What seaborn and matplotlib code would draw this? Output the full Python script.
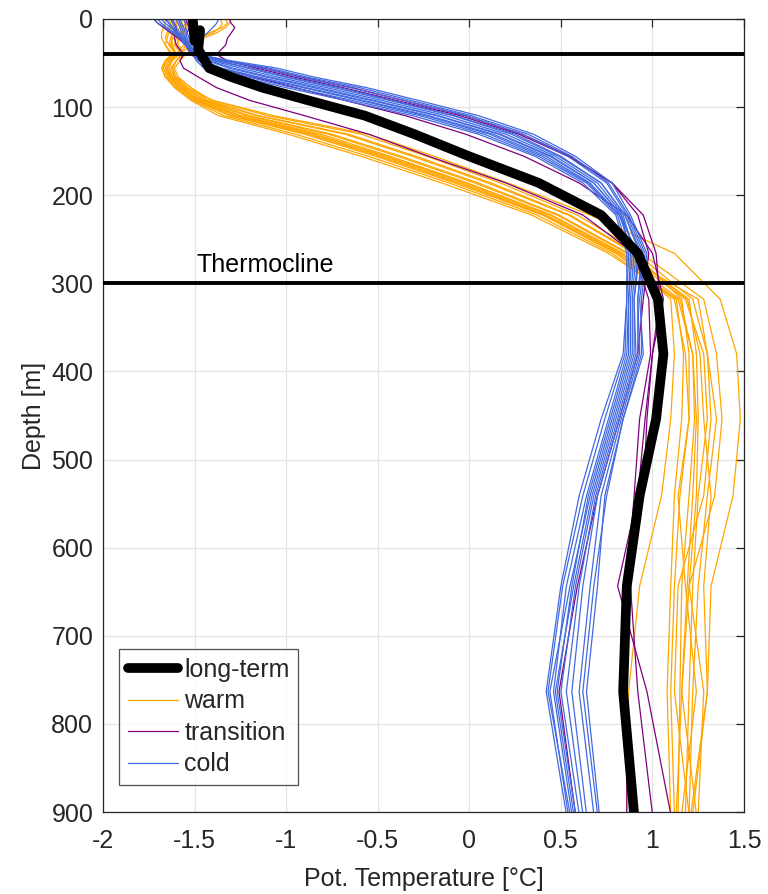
import numpy as np
import pandas as pd
import matplotlib
matplotlib.use("Agg")
import matplotlib.pyplot as plt
import seaborn as sns
from matplotlib.lines import Line2D

# ---------------- data ----------------
depth = [0.5, 5.0, 9.6, 15.8, 21.6, 29.4, 40.3, 47.4, 55.8, 65.8, 77.9, 92.3,
         109.7, 130.7, 155.9, 186.1, 222.5, 266.0, 318.1, 380.2, 453.9, 541.1,
         643.6, 763.3, 902.3]

long_term = [-1.51, -1.50, -1.47, -1.47, -1.48, -1.50, -1.50, -1.48, -1.42, -1.30,
             -1.13, -0.88, -0.57, -0.30, 0.00, 0.38, 0.72, 0.92, 1.03, 1.06, 1.02,
             0.93, 0.86, 0.84, 0.90]

warm = [
    [-1.30,-1.31,-1.33,-1.38,-1.45,-1.52,-1.58,-1.63,-1.65,-1.64,-1.58,-1.49,-1.30,-0.88,-0.49,-0.06,0.41,0.81,1.15,1.22,1.23,1.20,1.16,1.15,1.14],
    [-1.33,-1.32,-1.35,-1.42,-1.50,-1.56,-1.60,-1.66,-1.67,-1.65,-1.60,-1.51,-1.34,-0.95,-0.55,-0.11,0.37,0.78,1.12,1.18,1.20,1.15,1.12,1.10,1.12],
    [-1.36,-1.35,-1.36,-1.40,-1.48,-1.55,-1.57,-1.60,-1.62,-1.61,-1.54,-1.40,-1.07,-0.55,-0.19,0.21,0.66,1.12,1.37,1.46,1.48,1.44,1.32,1.30,1.22],
    [-1.58,-1.58,-1.60,-1.62,-1.63,-1.62,-1.60,-1.64,-1.66,-1.63,-1.57,-1.47,-1.25,-0.81,-0.43,-0.01,0.45,0.84,1.18,1.28,1.30,1.25,1.22,1.20,1.18],
    [-1.62,-1.62,-1.63,-1.64,-1.65,-1.66,-1.62,-1.66,-1.68,-1.66,-1.60,-1.50,-1.31,-0.90,-0.51,-0.08,0.40,0.80,1.13,1.17,1.16,1.12,1.10,1.08,1.10],
    [-1.56,-1.55,-1.57,-1.58,-1.60,-1.61,-1.57,-1.60,-1.62,-1.60,-1.52,-1.43,-1.15,-0.66,-0.29,0.12,0.55,0.91,1.22,1.30,1.35,1.30,1.25,1.22,1.20],
    [-1.60,-1.60,-1.61,-1.62,-1.63,-1.64,-1.59,-1.62,-1.64,-1.62,-1.55,-1.46,-1.22,-0.77,-0.39,0.03,0.48,0.86,1.20,1.24,1.25,1.24,1.20,1.28,1.25],
    [-1.52,-1.52,-1.54,-1.56,-1.58,-1.60,-1.56,-1.60,-1.63,-1.61,-1.54,-1.44,-1.16,-0.68,-0.31,0.10,0.54,0.90,1.16,1.20,1.20,1.14,1.18,1.24,1.16],
    [-1.64,-1.63,-1.64,-1.65,-1.66,-1.64,-1.60,-1.63,-1.65,-1.63,-1.58,-1.48,-1.26,-0.84,-0.45,-0.02,0.44,0.83,1.10,1.12,1.10,1.05,0.93,0.87,0.86],
    [-1.57,-1.57,-1.58,-1.60,-1.62,-1.63,-1.61,-1.65,-1.67,-1.64,-1.59,-1.48,-1.28,-0.86,-0.47,-0.04,0.42,0.82,1.25,1.30,1.32,1.28,1.14,1.12,1.20],
    [-1.66,-1.66,-1.67,-1.68,-1.68,-1.66,-1.63,-1.66,-1.68,-1.66,-1.61,-1.52,-1.37,-0.99,-0.59,-0.15,0.34,0.76,1.14,1.22,1.24,1.22,1.19,1.16,1.13],
    [-1.54,-1.54,-1.55,-1.57,-1.59,-1.59,-1.55,-1.58,-1.61,-1.59,-1.52,-1.41,-1.10,-0.59,-0.23,0.17,0.59,0.94,1.28,1.35,1.38,1.34,1.20,1.16,1.24],
    [-1.60,-1.60,-1.60,-1.61,-1.62,-1.63,-1.60,-1.63,-1.65,-1.62,-1.56,-1.45,-1.20,-0.75,-0.37,0.05,0.49,0.87,1.19,1.26,1.28,1.32,1.28,1.30,1.21],
]

transition = [
    [-1.72,-1.70,-1.67,-1.63,-1.59,-1.55,-1.50,-1.34,-1.12,-0.92,-0.64,-0.36,-0.02,0.29,0.55,0.78,0.92,0.98,0.95,0.92,0.82,0.70,0.59,0.49,0.58],
    [-1.31,-1.30,-1.28,-1.30,-1.32,-1.33,-1.38,-1.32,-1.16,-0.96,-0.69,-0.40,-0.05,0.27,0.54,0.78,0.95,1.02,1.04,1.00,0.96,0.92,0.81,0.97,1.10],
    [-1.55,-1.54,-1.53,-1.54,-1.55,-1.55,-1.52,-1.47,-1.36,-1.18,-0.95,-0.68,-0.35,-0.02,0.30,0.60,0.86,1.00,1.06,1.00,0.97,0.95,0.88,0.92,1.00],
    [-1.62,-1.61,-1.60,-1.60,-1.61,-1.60,-1.56,-1.58,-1.56,-1.48,-1.38,-1.20,-0.90,-0.55,-0.22,0.20,0.62,0.90,0.98,0.99,0.93,0.90,0.86,0.86,0.86],
]

cold = [
    [-1.72,-1.70,-1.66,-1.62,-1.58,-1.55,-1.50,-1.46,-1.37,-1.17,-0.91,-0.60,-0.24,0.11,0.40,0.65,0.82,0.92,0.90,0.90,0.80,0.68,0.58,0.50,0.60],
    [-1.68,-1.66,-1.63,-1.60,-1.57,-1.54,-1.49,-1.37,-1.19,-0.99,-0.71,-0.42,-0.08,0.25,0.50,0.72,0.85,0.94,0.92,0.92,0.82,0.70,0.62,0.56,0.64],
    [-1.37,-1.38,-1.40,-1.43,-1.46,-1.48,-1.47,-1.32,-1.09,-0.89,-0.60,-0.32,0.01,0.32,0.56,0.76,0.87,0.96,0.93,0.95,0.84,0.74,0.70,0.64,0.71],
    [-1.62,-1.61,-1.60,-1.58,-1.56,-1.53,-1.50,-1.43,-1.31,-1.11,-0.85,-0.54,-0.18,0.16,0.44,0.68,0.83,0.88,0.87,0.86,0.76,0.64,0.53,0.46,0.56],
    [-1.58,-1.57,-1.56,-1.55,-1.54,-1.52,-1.48,-1.40,-1.25,-1.05,-0.78,-0.48,-0.13,0.20,0.47,0.70,0.84,0.90,0.88,0.88,0.78,0.66,0.55,0.44,0.54],
    [-1.65,-1.64,-1.62,-1.60,-1.58,-1.55,-1.51,-1.49,-1.45,-1.25,-1.00,-0.68,-0.31,0.05,0.36,0.62,0.80,0.86,0.86,0.84,0.72,0.60,0.50,0.42,0.53],
    [-1.70,-1.68,-1.65,-1.61,-1.57,-1.53,-1.49,-1.34,-1.13,-0.93,-0.65,-0.36,-0.02,0.29,0.54,0.75,0.86,0.95,0.92,0.93,0.83,0.72,0.66,0.60,0.68],
    [-1.60,-1.59,-1.58,-1.57,-1.55,-1.53,-1.49,-1.45,-1.35,-1.15,-0.89,-0.58,-0.22,0.13,0.42,0.66,0.82,0.89,0.87,0.87,0.77,0.65,0.56,0.48,0.58],
    [-1.56,-1.55,-1.55,-1.54,-1.53,-1.51,-1.47,-1.38,-1.21,-1.01,-0.74,-0.44,-0.09,0.23,0.49,0.72,0.85,0.93,0.90,0.91,0.81,0.69,0.60,0.53,0.62],
    [-1.66,-1.64,-1.62,-1.59,-1.56,-1.53,-1.50,-1.42,-1.29,-1.09,-0.82,-0.52,-0.17,0.17,0.45,0.68,0.83,0.91,0.89,0.89,0.79,0.67,0.57,0.47,0.57],
    [-1.63,-1.62,-1.61,-1.59,-1.57,-1.54,-1.50,-1.48,-1.41,-1.21,-0.96,-0.64,-0.27,0.08,0.38,0.64,0.81,0.87,0.86,0.85,0.74,0.62,0.51,0.43,0.55],
    [-1.59,-1.58,-1.57,-1.56,-1.55,-1.53,-1.49,-1.30,-1.05,-0.85,-0.56,-0.28,0.05,0.35,0.58,0.78,0.88,0.97,0.94,0.94,0.84,0.75,0.68,0.62,0.70],
]

ref_depths = [40, 300]
thermo_label = "Thermocline"
x_ticks = [-2, -1.5, -1, -0.5, 0, 0.5, 1, 1.5]
x_tick_labels = ["-2", "-1.5", "-1", "-0.5", "0", "0.5", "1", "1.5"]
y_ticks = [0, 100, 200, 300, 400, 500, 600, 700, 800, 900]
legend_labels = ["long-term", "warm", "transition", "cold"]

# ---------------- build table ----------------
rows = []
for gname, profiles in (("warm", warm), ("transition", transition), ("cold", cold)):
    for i, prof in enumerate(profiles):
        for d, t in zip(depth, prof):
            rows.append({"group": gname, "profile": f"{gname}{i}", "depth": d, "temp": t})
df = pd.DataFrame(rows)
df_mean = pd.DataFrame({"depth": depth, "temp": long_term})

palette = {"warm": "#FFA500", "transition": "#800080", "cold": "#4169E1"}

# ---------------- figure ----------------
sns.set_theme(style="white")
plt.rcParams["font.family"] = ["Liberation Sans", "DejaVu Sans"]

fig = plt.figure(figsize=(7.68, 8.94), dpi=100)
ax = fig.add_axes([103/768, 1 - 812/894, (744-103)/768, (812-19)/894])

for gname in ("warm", "transition", "cold"):
    sub = df[df["group"] == gname]
    sns.lineplot(data=sub, x="temp", y="depth", units="profile", estimator=None,
                 sort=False, color=palette[gname], linewidth=0.9, ax=ax,
                 legend=False, zorder=2)

sns.lineplot(data=df_mean, x="temp", y="depth", sort=False, color="black",
             linewidth=7, ax=ax, legend=False, zorder=4)

for rd in ref_depths:
    ax.axhline(rd, color="black", linewidth=2.8, zorder=5)
ax.text(-1.49, 293, thermo_label, fontsize=18, color="black", va="bottom", ha="left")

ax.set_xlim(-2, 1.5)
ax.set_ylim(900, 0)
ax.set_xticks(x_ticks)
ax.set_xticklabels(x_tick_labels)
ax.set_yticks(y_ticks)
ax.grid(True, color="#E3E3E3", linewidth=0.9)
ax.set_axisbelow(True)
for s in ax.spines.values():
    s.set_color("#262626")
    s.set_linewidth(0.9)
ax.tick_params(axis="both", direction="in", length=6, width=0.9, color="#262626",
               labelsize=18, labelcolor="#262626", top=True, right=True)
ax.tick_params(axis="x", pad=12)
ax.tick_params(axis="y", pad=7)
ax.set_xlabel("Pot. Temperature [°C]", fontsize=18, color="#262626", labelpad=10)
ax.set_ylabel("Depth [m]", fontsize=18, color="#262626", labelpad=4)

handles = [Line2D([0], [0], color="black", linewidth=7),
           Line2D([0], [0], color=palette["warm"], linewidth=0.9),
           Line2D([0], [0], color=palette["transition"], linewidth=0.9),
           Line2D([0], [0], color=palette["cold"], linewidth=0.9)]
leg = ax.legend(handles, legend_labels, loc="lower left",
                bbox_to_anchor=(0.0254, 0.034), borderaxespad=0, fontsize=18,
                frameon=True, fancybox=False, edgecolor="#262626",
                handlelength=2.0, handletextpad=0.25, labelspacing=0.3,
                borderpad=0.35)
leg.get_frame().set_linewidth(0.9)
leg.set_zorder(10)

fig.savefig("out.png", dpi=100)
